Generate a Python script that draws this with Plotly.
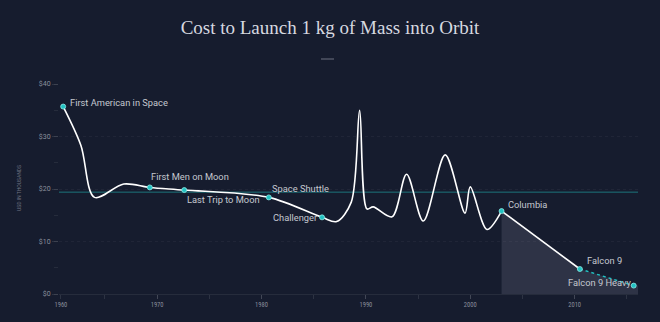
import plotly.graph_objects as go

# ---- data ----
curve_years = [1961.0, 1962.7, 1964.0, 1966.8, 1969.3, 1972.6, 1980.7, 1985.8, 1987.2,
               1988.6, 1989.4, 1990.1, 1990.7, 1992.5, 1993.9, 1995.5, 1997.6, 1999.5,
               2000.0, 2001.6, 2003.0]
curve_cost = [35.7, 28.3, 18.4, 20.95, 20.3, 19.8, 18.4, 14.6, 13.8,
              17.5, 35.0, 16.2, 16.6, 14.7, 22.8, 13.9, 26.5, 15.4,
              20.4, 12.3, 15.8]

recent_years = [2003.0, 2010.5]
recent_cost = [15.8, 4.76]

future_years = [2010.5, 2015.66]
future_cost = [4.76, 1.6]

event_names = ["First American in Space", "First Men on Moon", "Last Trip to Moon",
               "Space Shuttle", "Challenger", "Columbia", "Falcon 9", "Falcon 9 Heavy"]
event_years = [1961.0, 1969.3, 1972.6, 1980.7, 1985.8, 2003.0, 2010.5, 2015.66]
event_cost = [35.7, 20.3, 19.8, 18.4, 14.6, 15.8, 4.76, 1.6]

average_cost = 19.4

x_tick_vals = [1960.78, 1970, 1980, 1990, 2000, 2010]
x_tick_text = ["1960", "1970", "1980", "1990", "2000", "2010"]
y_tick_vals = [0, 10, 20, 30, 40]
y_tick_text = ["$0", "$10", "$20", "$30", "$40"]

BG = "#161c2e"
TEAL = "#22c3c3"
LABEL = "#c4c7cf"
AXIS = "#8a8f9c"

fig = go.Figure()

# shaded area from Columbia onward
area_x = [2003.0, 2010.5, 2015.66, 2016.07, 2016.07, 2003.0]
area_y = [15.8, 4.76, 1.6, 1.6, 0, 0]
fig.add_trace(go.Scatter(x=area_x, y=area_y, fill="toself", mode="none",
                         fillcolor="rgba(130,138,158,0.22)", hoverinfo="skip",
                         showlegend=False))

# average line
fig.add_trace(go.Scatter(x=[1960.6, 2016.07], y=[average_cost, average_cost], mode="lines",
                         line=dict(color="rgba(34,175,175,0.6)", width=1),
                         hoverinfo="skip", showlegend=False))

fig.add_trace(go.Scatter(x=curve_years, y=curve_cost, mode="lines",
                         line=dict(color="white", width=1.6, shape="spline", smoothing=0.9),
                         showlegend=False))
fig.add_trace(go.Scatter(x=recent_years, y=recent_cost, mode="lines",
                         line=dict(color="white", width=1.6), showlegend=False))
fig.add_trace(go.Scatter(x=future_years, y=future_cost, mode="lines",
                         line=dict(color=TEAL, width=1.4, dash="dot"), showlegend=False))

fig.add_trace(go.Scatter(x=event_years, y=event_cost, mode="markers",
                         marker=dict(color=TEAL, size=5,
                                     line=dict(color="#8fe8e4", width=0.8)),
                         showlegend=False))

# event labels: (xanchor, xshift, yshift)
label_pos = {
    "First American in Space": ("left", 5, 4),
    "First Men on Moon": ("left", -1, 11),
    "Last Trip to Moon": ("left", 1, -9),
    "Space Shuttle": ("left", 1, 9),
    "Challenger": ("right", -2, 0),
    "Columbia": ("left", 4, 7),
    "Falcon 9": ("left", 5, 9),
    "Falcon 9 Heavy": ("right", -1, 3),
}
for name, yr, c in zip(event_names, event_years, event_cost):
    xa, xs, ys = label_pos[name]
    fig.add_annotation(x=yr, y=c, text=name, showarrow=False, xanchor=xa,
                       yanchor="middle", xshift=xs, yshift=ys,
                       font=dict(family="Roboto", size=9.3, color=LABEL))

# y-axis title
fig.add_annotation(xref="paper", yref="paper", x=(19 - 59) / 579, y=(294 - 188) / 210,
                   text="USD IN THOUSANDS", textangle=-90, showarrow=False,
                   xanchor="center", yanchor="middle",
                   font=dict(family="Roboto", size=5, color="#6f7482"))

fig.update_layout(
    width=660, height=322,
    margin=dict(l=59, r=22, t=84, b=28),
    paper_bgcolor=BG, plot_bgcolor=BG,
    title=dict(text="Cost to Launch 1 kg of Mass into Orbit", x=0.5, xanchor="center",
               y=1 - 27 / 322, yanchor="middle",
               font=dict(family="Liberation Serif", size=19, color="#d6d9e0")),
    shapes=[dict(type="line", xref="paper", yref="paper",
                 x0=(321 - 59) / 579, x1=(334 - 59) / 579,
                 y0=(294 - 59) / 210, y1=(294 - 59) / 210,
                 line=dict(color="#6c7180", width=1))],
    showlegend=False,
)

fig.update_xaxes(range=[1960.6, 2016.07], tickmode="array", tickvals=x_tick_vals,
                 ticktext=x_tick_text, showgrid=False, zeroline=False,
                 showline=True, linecolor="rgba(255,255,255,0.07)", linewidth=1,
                 ticks="outside", ticklen=4, tickcolor="rgba(255,255,255,0.1)",
                 tickfont=dict(family="Roboto Condensed, Roboto", size=6.5, color=AXIS),
                 minor=dict(dtick=5, tick0=1960, ticks="outside", ticklen=4,
                            tickcolor="rgba(255,255,255,0.1)", showgrid=False))
fig.update_yaxes(range=[0, 40], tickmode="array", tickvals=y_tick_vals,
                 ticktext=y_tick_text, showgrid=True, griddash="dot",
                 gridcolor="rgba(255,255,255,0.045)", zeroline=False,
                 showline=False, ticks="outside", ticklen=6,
                 tickcolor="rgba(255,255,255,0.1)",
                 tickfont=dict(family="Roboto", size=7, color=AXIS),
                 minor=dict(dtick=5, ticks="outside", ticklen=4,
                            tickcolor="rgba(255,255,255,0.07)", showgrid=False))

fig.write_html("out.html")
